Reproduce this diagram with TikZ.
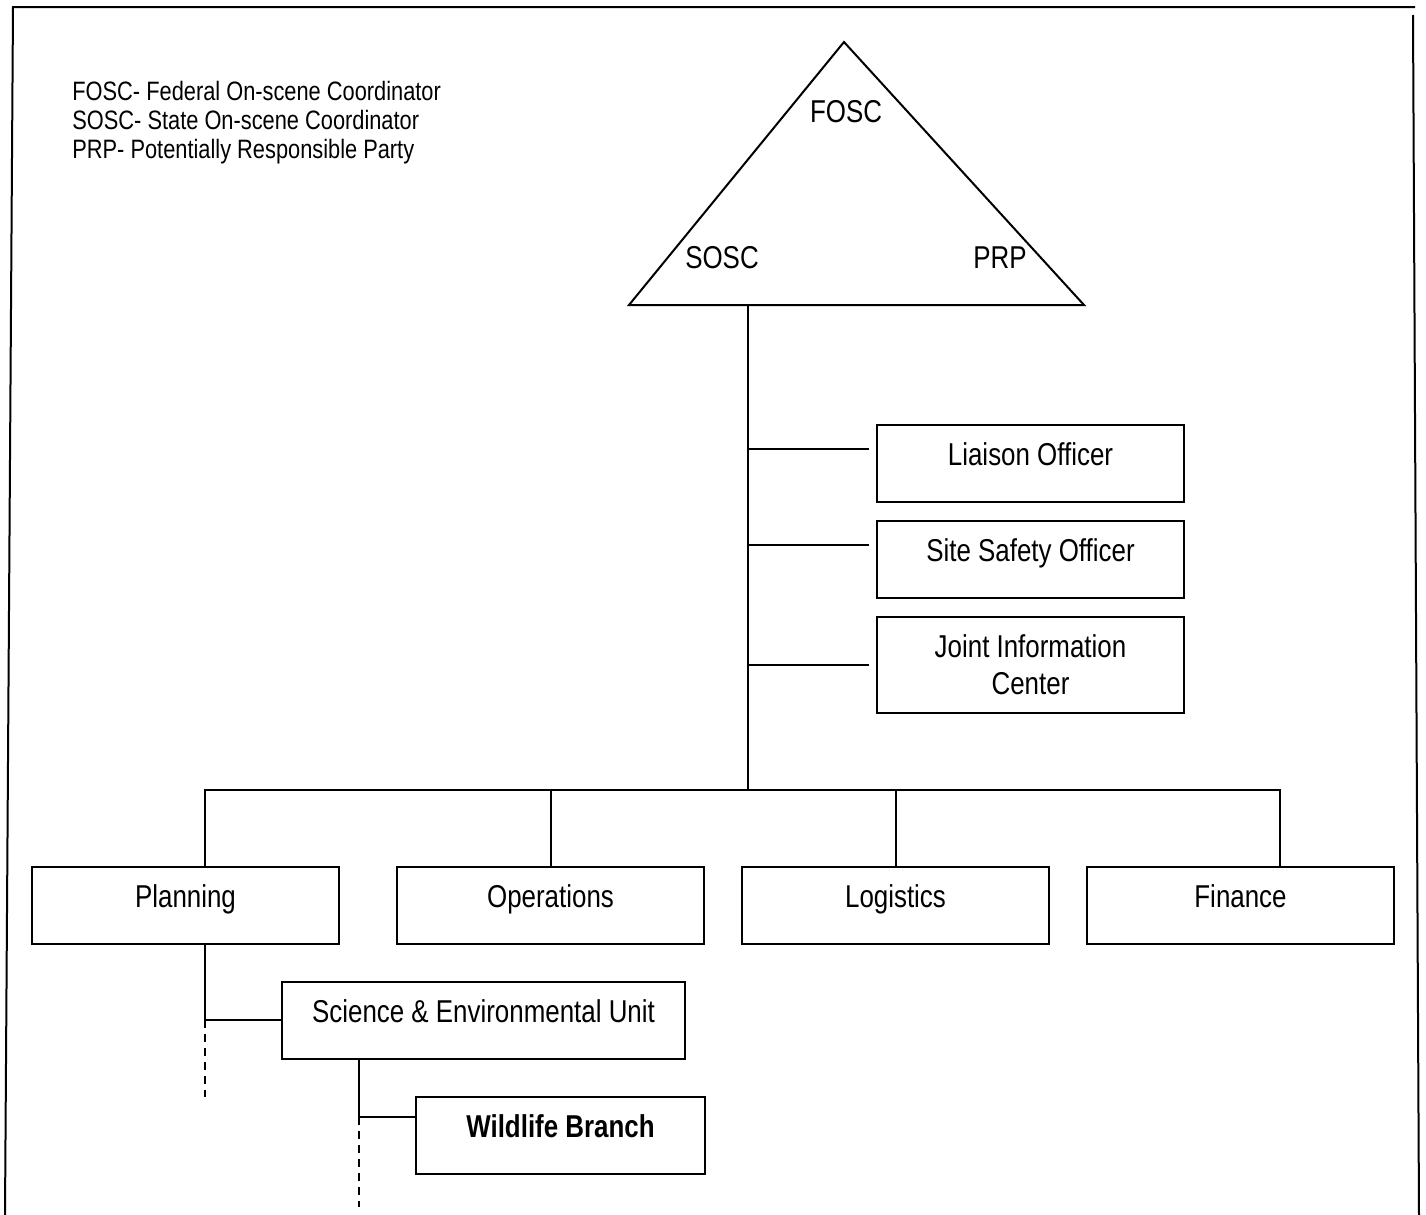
\documentclass[tikz,border=0pt]{standalone}
\usepackage{fontspec}
\setmainfont{Liberation Sans}[FakeStretch=0.82]
\usetikzlibrary{positioning}
\tikzset{node distance=9.5pt, % Gap between two stacked boxes.
unit/.style={ % Sets the properties for each box
draw, line width=1pt, outer sep=0pt, inner sep=0pt,
minimum width=153.5pt, minimum height=38.5pt,
font=\fontsize{15.8}{18.3}\selectfont},
oneline/.style={text height=11.3pt, text depth=9pt}, % Lifts one-line text a little
tag/.style={anchor=base, inner sep=0pt, font=\fontsize{15.8}{18.3}\selectfont},
link/.style={line width=1pt}, % Plain connector
open/.style={link, dash pattern=on 4pt off 3pt}} % Dashed connector

\begin{document}
\begin{tikzpicture}[x=0.5pt, y=-0.5pt]
    \useasboundingbox (0,0) rectangle (1426,1215);
    
    \draw[link] (5,1215) -- (13,7) -- (1415,7);
    \draw[link] (1413,15) -- (1419,1215);
    
    \node[anchor=north west, align=left, inner sep=0pt, font=\fontsize{13.3}{14.5}\selectfont] (legend) at (72,81)
        {FOSC- Federal On-scene Coordinator\\SOSC- State On-scene Coordinator\\PRP- Potentially Responsible Party};
    
    \coordinate (apex) at (844,42);
    \coordinate (left) at (629,305);
    \coordinate (right) at (1084,305);
    \draw[link, line join=miter] (apex) -- (right) -- (left) -- cycle;
    \node[tag] (fosc) at (846,122) {FOSC};
    \node[tag] (sosc) at (722,268) {SOSC};
    \node[tag] (prp) at (1000,268) {PRP};
    
    \node[unit, oneline] (liaison) at (1030.5,463.5) {Liaison Officer};
    \node[unit, oneline, below=of liaison] (safety) {Site Safety Officer};
    \node[unit, align=center, minimum height=48pt, below=of safety] (jic) {Joint Information\\Center};
    
    \node[unit, oneline] (planning) at (185.5,905) {Planning};
    \node[unit, oneline, right=29pt of planning] (operations) {Operations};
    \node[unit, oneline, right=19pt of operations] (logistics) {Logistics};
    \node[unit, oneline, right=19pt of logistics] (finance) {Finance};
    
    \node[unit, oneline, minimum width=201.5pt] (science) at (483.5,1020) {Science \& Environmental Unit};
    \node[unit, oneline, minimum width=144.5pt] (wildlife) at (560.5,1135.5) {\bfseries Wildlife Branch};
    
    \coordinate (top) at (748,305);
    \coordinate (bus) at (748,790);
    \draw[link] (top) -- (bus);
    \foreach \o/\s in {liaison/7.25, safety/7.25, jic/0} {
        \path ([yshift=\s pt]\o.west) coordinate (\o-in);
        \draw[link] (\o-in -| top) -- ([xshift=-4pt]\o-in);
    }
    
    \path ([xshift=9.75pt]planning.north) coordinate (pup);
    \path ([xshift=19.5pt]finance.north) coordinate (fup);
    \draw[link] (pup) |- (bus) -| (fup);
    \foreach \s in {operations, logistics}
        \draw[link] (\s.north) -- (\s.north |- bus);
    
    \path ([xshift=9.75pt]planning.south) coordinate (pdown);
    \draw[link] (pdown) |- (science.west);
    \draw[open] (pdown |- science.west) -- ++(0,77);
    
    \path ([xshift=38.5pt]science.south west) coordinate (sdown);
    \path ([yshift=9.25pt]wildlife.west) coordinate (win);
    \draw[link] (sdown) |- (win);
    \draw[open] (sdown |- win) -- ++(0,90);
    
\end{tikzpicture}
\end{document}
